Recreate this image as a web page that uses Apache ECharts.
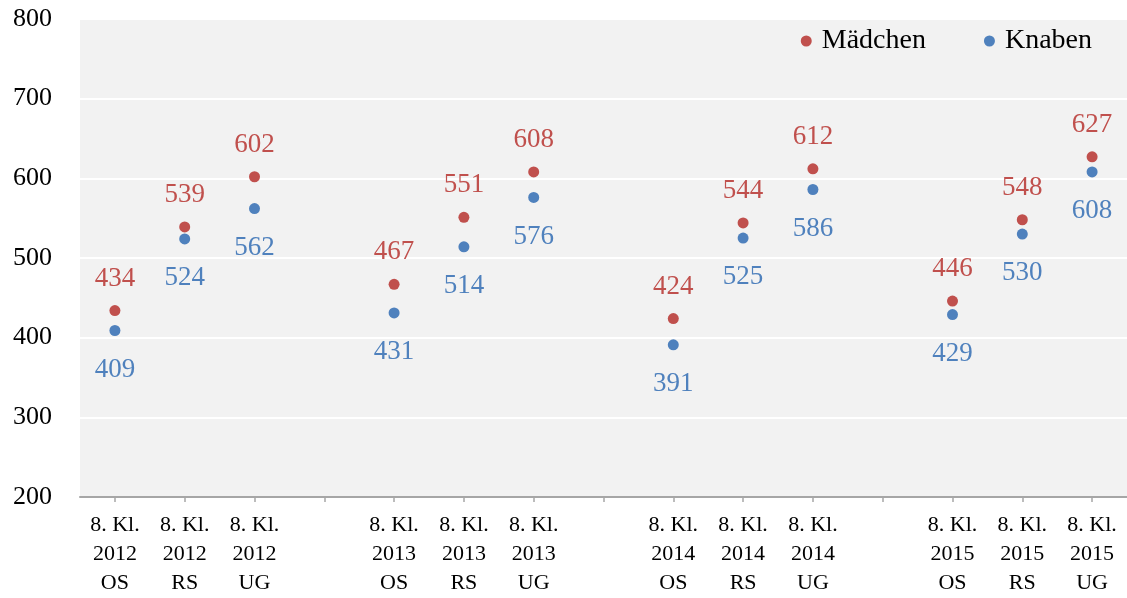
<!DOCTYPE html>
<html>
<head>
<meta charset="utf-8">
<script src="https://cdn.jsdelivr.net/npm/echarts@6/dist/echarts.min.js"></script>
<style>
  html, body { margin: 0; padding: 0; background: #ffffff; }
  #chart { width: 1127px; height: 598px; }
</style>
</head>
<body>
<div id="chart"></div>
<script>
const years = ['2012', '2013', '2014', '2015'];
const schools = ['OS', 'RS', 'UG'];
const maedchen = [434, 539, 602, 467, 551, 608, 424, 544, 612, 446, 548, 627];
const knaben = [409, 524, 562, 431, 514, 576, 391, 525, 586, 429, 530, 608];
const yTicks = [200, 300, 400, 500, 600, 700, 800];

// Build category axis with an empty slot between year groups
const categories = [];
const mData = [];
const kData = [];
years.forEach((y, yi) => {
  schools.forEach((s, si) => {
    const idx = yi * schools.length + si;
    categories.push('8. Kl.\n' + y + '\n' + s);
    mData.push(maedchen[idx]);
    kData.push(knaben[idx]);
  });
  if (yi < years.length - 1) {
    categories.push('');
    mData.push('-');
    kData.push('-');
  }
});

const FONT = '"Liberation Serif", "DejaVu Serif", serif';
const RED = '#C0504D';
const BLUE = '#4F81BD';

const chart = echarts.init(document.getElementById('chart'), null, { renderer: 'canvas' });
chart.setOption({
  animation: false,
  backgroundColor: '#ffffff',
  textStyle: { fontFamily: FONT },
  grid: {
    left: 80, right: 0, top: 19, bottom: 98,
    show: true, backgroundColor: '#f2f2f2', borderWidth: 0,
    containLabel: false
  },
  legend: {
    right: 30, top: 22,
    itemWidth: 11, itemHeight: 11, itemGap: 58,
    selectedMode: false,
    textStyle: { fontFamily: FONT, fontSize: 28, color: '#000000', padding: [0, 0, 0, 5] },
    data: [
      { name: 'Mädchen', icon: 'circle', itemStyle: { color: RED, opacity: 1 } },
      { name: 'Knaben', icon: 'circle', itemStyle: { color: BLUE, opacity: 1 } }
    ]
  },
  xAxis: {
    type: 'category',
    data: categories,
    boundaryGap: true,
    axisLine: { show: true, lineStyle: { color: '#a6a6a6', width: 2 } },
    axisTick: { show: true, alignWithLabel: true, interval: 0, length: 5, lineStyle: { color: '#a6a6a6', width: 1.5 } },
    axisLabel: {
      interval: 0, margin: 14,
      fontFamily: FONT, fontSize: 22, lineHeight: 29, color: '#000000'
    },
    splitLine: { show: false }
  },
  yAxis: {
    type: 'value',
    min: yTicks[0], max: yTicks[yTicks.length - 1], interval: 100,
    axisLine: { show: false },
    axisTick: { show: false },
    axisLabel: { margin: 28, fontFamily: FONT, fontSize: 26, color: '#000000' },
    splitLine: { show: true, lineStyle: { color: '#ffffff', width: 2 } }
  },
  series: [
    {
      name: 'Mädchen',
      type: 'scatter',
      data: mData,
      symbol: 'circle',
      symbolSize: 11,
      itemStyle: { color: RED, opacity: 1 },
      label: {
        show: true, position: 'top', distance: 13,
        fontFamily: FONT, fontSize: 27, lineHeight: 27, color: RED
      }
    },
    {
      name: 'Knaben',
      type: 'scatter',
      data: kData,
      symbol: 'circle',
      symbolSize: 11,
      itemStyle: { color: BLUE, opacity: 1 },
      label: {
        show: true, position: 'bottom', distance: 20,
        fontFamily: FONT, fontSize: 27, lineHeight: 27, color: BLUE
      }
    }
  ]
});
</script>
</body>
</html>
